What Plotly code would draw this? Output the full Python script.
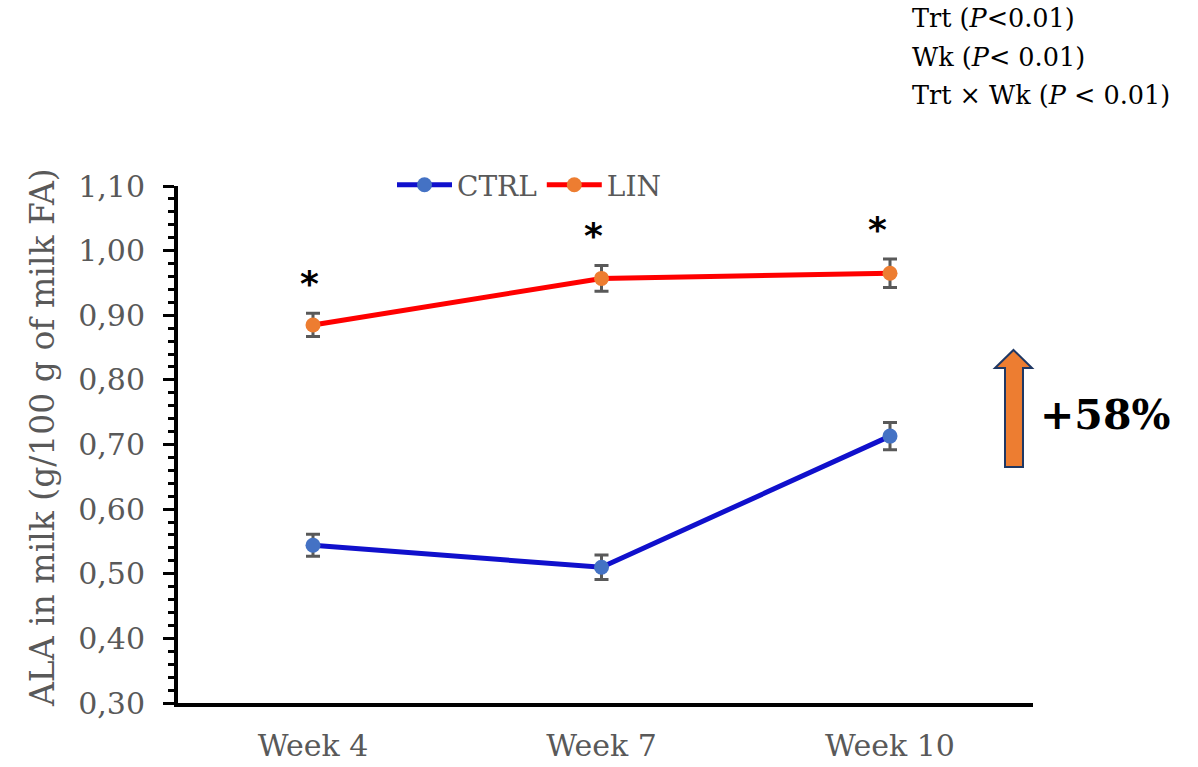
import plotly.graph_objects as go

# ---- data ----
weeks = ["Week 4", "Week 7", "Week 10"]
ctrl_mean = [0.544, 0.510, 0.713]
ctrl_se = [0.017, 0.019, 0.021]
lin_mean = [0.885, 0.957, 0.965]
lin_se = [0.018, 0.020, 0.022]
signif = ["*", "*", "*"]
stats_lines = ["Trt (<i>P</i><0.01)", "Wk (<i>P</i>< 0.01)", "Trt × Wk (<i>P</i> < 0.01)"]
change_label = "+58%"

# ---- geometry of the canvas (pixels) ----
W, H = 1198, 767
L, R, T, B = 178, 1033, 186, 703   # plot-area edges

def px(xp):
    return (xp - L) / (R - L)

def py(yp):
    return (B - yp) / (B - T)

serif = "DejaVu Serif"
grey = "#595959"
xidx = list(range(len(weeks)))

fig = go.Figure()
fig.add_trace(go.Scatter(
    x=xidx, y=ctrl_mean, name="CTRL", mode="lines+markers",
    line=dict(color="#1010CC", width=5),
    marker=dict(color="#4472C4", size=15),
    error_y=dict(type="data", array=ctrl_se, color=grey, thickness=3, width=7),
))
fig.add_trace(go.Scatter(
    x=xidx, y=lin_mean, name="LIN", mode="lines+markers",
    line=dict(color="#FF0000", width=5),
    marker=dict(color="#ED7D31", size=15),
    error_y=dict(type="data", array=lin_se, color=grey, thickness=3, width=7),
))

annotations = []
# significance marks above the LIN error bars
shifts = [-4, -8, -13]
for i, s in enumerate(signif):
    annotations.append(dict(
        x=i, y=lin_mean[i] + lin_se[i], xref="x", yref="y", text="<b>" + s + "</b>",
        showarrow=False, xshift=shifts[i], yshift=30,
        font=dict(family="DejaVu Sans", size=36, color="black"),
        xanchor="center", yanchor="middle",
    ))

# axis title
annotations.append(dict(
    x=px(42), y=py(438), xref="paper", yref="paper",
    text="ALA in milk (g/100 g of milk FA)", textangle=-90, showarrow=False,
    font=dict(family=serif, size=33, color=grey),
    xanchor="center", yanchor="middle",
))

# statistics block, top right
for k, (line, yc) in enumerate(zip(stats_lines, [18, 57, 95])):
    annotations.append(dict(
        x=px(910), y=py(yc), xref="paper", yref="paper", text=line,
        showarrow=False, font=dict(family=serif, size=25.5, color="black"),
        xanchor="left", yanchor="middle",
    ))

# percentage change label
annotations.append(dict(
    x=px(1038), y=py(415), xref="paper", yref="paper", text="<b>" + change_label + "</b>",
    showarrow=False, font=dict(family=serif, size=41, color="black"),
    xanchor="left", yanchor="middle",
))

# block arrow
arrow_pts = [(1013.5, 350), (1032, 368), (1023, 368), (1023, 467),
             (1005, 467), (1005, 368), (995, 368)]
path = "M " + " L ".join(f"{px(a):.5f},{py(b):.5f}" for a, b in arrow_pts) + " Z"
shapes = [dict(type="path", path=path, xref="paper", yref="paper",
               fillcolor="#ED7D31", line=dict(color="#1F3864", width=2))]

fig.update_layout(
    width=W, height=H,
    margin=dict(l=L, r=W - R, t=T, b=H - B, pad=0, autoexpand=False),
    paper_bgcolor="white", plot_bgcolor="white",
    separators=",.",
    showlegend=True,
    legend=dict(
        orientation="h", x=px(392), y=py(185), xanchor="left", yanchor="middle",
        font=dict(family=serif, size=28, color=grey),
        bgcolor="rgba(0,0,0,0)", itemwidth=55, tracegroupgap=0,
    ),
    annotations=annotations,
    shapes=shapes,
    xaxis=dict(
        range=[(L - 313) / 288.5, (R - 313) / 288.5],
        tickmode="array", tickvals=xidx, ticktext=weeks,
        showline=True, linecolor="black", linewidth=4,
        showgrid=False, zeroline=False, ticks="", automargin=False,
        tickfont=dict(family=serif, size=30, color=grey),
        ticklabelstandoff=13,
    ),
    yaxis=dict(
        range=[0.30, 1.10], tick0=0.3, dtick=0.1, tickformat=".2f",
        showline=True, linecolor="black", linewidth=4,
        showgrid=False, zeroline=False, automargin=False,
        ticks="outside", ticklen=11, tickwidth=3, tickcolor="black",
        minor=dict(ticks="outside", dtick=0.02, ticklen=6, tickwidth=3, tickcolor="black"),
        tickfont=dict(family=serif, size=30, color=grey),
        ticklabelstandoff=12,
    ),
)

fig.write_html("out.html")
